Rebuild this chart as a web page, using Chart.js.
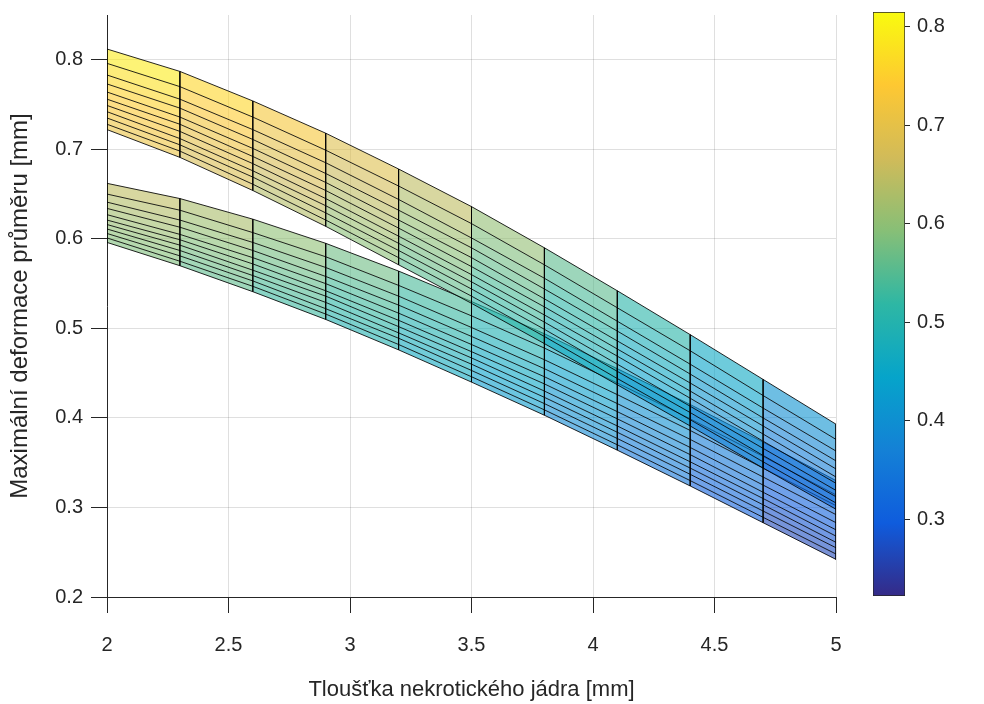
<!DOCTYPE html>
<html>
<head>
<meta charset="utf-8">
<script src="https://cdn.jsdelivr.net/npm/chart.js@4.4.1/dist/chart.umd.min.js"></script>
<style>
  html, body { margin: 0; padding: 0; background: #fff; }
  #wrap { position: relative; width: 984px; height: 704px; }
  #plot { position: absolute; left: 0; top: 0; }
  #cbar { position: absolute; left: 860px; top: 0; }
</style>
</head>
<body>
<div id="wrap">
  <canvas id="plot" width="984" height="704"></canvas>
  <canvas id="cbar" width="124" height="704"></canvas>
</div>
<script>
// tloušťka nekrotického jádra [mm]
const thickness = [2, 2.3, 2.6, 2.9, 3.2, 3.5, 3.8, 4.1, 4.4, 4.7, 5];

// horní plocha - jedna řada = jedna čára sítě
const upperRows = [
  [0.812, 0.787, 0.754, 0.718, 0.678, 0.636, 0.590, 0.542, 0.493, 0.443, 0.393],
  [0.796, 0.770, 0.736, 0.699, 0.659, 0.617, 0.571, 0.523, 0.475, 0.425, 0.376],
  [0.783, 0.756, 0.722, 0.685, 0.644, 0.601, 0.556, 0.508, 0.460, 0.411, 0.363],
  [0.773, 0.746, 0.711, 0.673, 0.632, 0.590, 0.544, 0.497, 0.449, 0.400, 0.352],
  [0.764, 0.736, 0.701, 0.663, 0.621, 0.579, 0.533, 0.486, 0.439, 0.391, 0.343],
  [0.756, 0.728, 0.692, 0.654, 0.612, 0.569, 0.524, 0.477, 0.430, 0.382, 0.334],
  [0.749, 0.720, 0.684, 0.645, 0.603, 0.560, 0.515, 0.469, 0.422, 0.374, 0.327],
  [0.742, 0.712, 0.676, 0.637, 0.595, 0.552, 0.507, 0.460, 0.413, 0.366, 0.319],
  [0.735, 0.705, 0.669, 0.629, 0.587, 0.544, 0.499, 0.452, 0.406, 0.358, 0.312],
  [0.728, 0.698, 0.661, 0.621, 0.579, 0.536, 0.491, 0.444, 0.398, 0.351, 0.305],
  [0.722, 0.691, 0.654, 0.614, 0.571, 0.528, 0.483, 0.437, 0.391, 0.344, 0.298]
];

// dolní plocha
const lowerRows = [
  [0.662, 0.645, 0.622, 0.595, 0.564, 0.530, 0.494, 0.455, 0.415, 0.373, 0.330],
  [0.650, 0.632, 0.607, 0.580, 0.548, 0.514, 0.478, 0.439, 0.399, 0.357, 0.314],
  [0.641, 0.621, 0.596, 0.568, 0.536, 0.501, 0.465, 0.426, 0.386, 0.344, 0.302],
  [0.634, 0.613, 0.587, 0.558, 0.526, 0.491, 0.455, 0.416, 0.376, 0.334, 0.292],
  [0.627, 0.605, 0.579, 0.550, 0.517, 0.482, 0.446, 0.407, 0.367, 0.325, 0.283],
  [0.621, 0.599, 0.572, 0.542, 0.509, 0.474, 0.438, 0.399, 0.359, 0.317, 0.275],
  [0.616, 0.593, 0.565, 0.536, 0.502, 0.467, 0.430, 0.391, 0.351, 0.310, 0.268],
  [0.611, 0.587, 0.559, 0.529, 0.495, 0.460, 0.423, 0.384, 0.344, 0.303, 0.261],
  [0.606, 0.581, 0.553, 0.522, 0.489, 0.453, 0.416, 0.377, 0.337, 0.296, 0.255],
  [0.601, 0.575, 0.547, 0.516, 0.482, 0.446, 0.409, 0.370, 0.330, 0.289, 0.248],
  [0.596, 0.570, 0.541, 0.510, 0.476, 0.440, 0.403, 0.364, 0.324, 0.283, 0.242]
];

// rozsah barevné škály (odečteno z colorbaru)
const colorLimits = [0.222, 0.815];

const xTitle = 'Tloušťka nekrotického jádra [mm]';
const yTitle = 'Maximální deformace průměru [mm]';

const FONT = '"Liberation Sans", Arial, Helvetica, sans-serif';
const TEXT = '#262626';
const GRID = 'rgba(38,38,38,0.15)';
const EDGE = 'rgba(0,0,0,0.85)';
const ALPHA = 0.6;

// parula
const PARULA = [
  [53, 42, 135], [15, 92, 221], [20, 129, 214], [6, 164, 202], [46, 183, 164],
  [135, 191, 119], [209, 187, 89], [254, 200, 50], [249, 251, 14]
];

const cMin = colorLimits[0];
const cMax = colorLimits[1];

function parula(t, a) {
  t = Math.max(0, Math.min(1, t));
  const p = t * (PARULA.length - 1);
  const i = Math.min(Math.floor(p), PARULA.length - 2);
  const f = p - i;
  const c = PARULA[i].map((v, j) => Math.round(v + (PARULA[i + 1][j] - v) * f));
  return `rgba(${c[0]},${c[1]},${c[2]},${a})`;
}

function faceColor(rows, k, i) {
  const v = (rows[k - 1][i] + rows[k][i] + rows[k - 1][i + 1] + rows[k][i + 1]) / 4;
  return parula((v - cMin) / (cMax - cMin), ALPHA);
}

function bandDatasets(rows, order) {
  const lines = rows.map((row, k) => ({
    data: row.map((v, i) => ({ x: thickness[i], y: v })),
    borderColor: EDGE,
    borderWidth: 1,
    pointRadius: 0,
    tension: 0,
    fill: k === 0 ? false : '-1',
    backgroundColor: 'transparent',
    ...(k === 0 ? {} : { segment: { backgroundColor: c => faceColor(rows, k, c.p0DataIndex) } }),
    order: order + 1
  }));
  const edges = thickness.map((x, i) => ({
    data: rows.map(r => ({ x: x, y: r[i] })),
    borderColor: EDGE,
    borderWidth: 1,
    pointRadius: 0,
    fill: false,
    order: order
  }));
  return lines.concat(edges);
}

// bez extra odsazení od popisků
function noPad(s) {
  s.paddingTop = 0;
  s.paddingBottom = 0;
  s.paddingLeft = 0;
  s.paddingRight = 0;
}

new Chart(document.getElementById('plot'), {
  type: 'line',
  data: { datasets: bandDatasets(upperRows, 0).concat(bandDatasets(lowerRows, 2)) },
  options: {
    responsive: false,
    animation: false,
    layout: { padding: { left: 0, top: 15, right: 148, bottom: 0 } },
    plugins: { legend: { display: false }, tooltip: { enabled: false } },
    scales: {
      x: {
        type: 'linear', min: 2, max: 5,
        afterFit: s => { s.height = 107; noPad(s); },
        grid: { color: GRID, tickColor: TEXT, tickLength: 16 },
        border: { color: TEXT },
        ticks: { stepSize: 0.5, color: TEXT, padding: 20, maxRotation: 0,
          font: { family: FONT, size: 20 }, callback: v => String(+v.toFixed(2)) },
        title: { display: true, text: xTitle, color: TEXT,
          font: { family: FONT, size: 22 }, padding: { top: 0, bottom: 1 } }
      },
      y: {
        type: 'linear', min: 0.2, max: 0.85,
        afterFit: s => { s.width = 107; noPad(s); },
        grid: { color: GRID, tickColor: TEXT, tickLength: 16 },
        border: { color: TEXT },
        ticks: { stepSize: 0.1, includeBounds: false, color: TEXT, padding: 8,
          font: { family: FONT, size: 20 }, callback: v => v.toFixed(1) },
        title: { display: true, text: yTitle, color: TEXT,
          font: { family: FONT, size: 24, lineHeight: 1 }, padding: { top: 8, bottom: 0 } }
      }
    }
  }
});

function colorbarFill(ctx) {
  const area = ctx.chart.chartArea;
  if (!area) return 'transparent';
  const g = ctx.chart.ctx.createLinearGradient(0, area.bottom, 0, area.top);
  PARULA.forEach((c, i) => g.addColorStop(i / (PARULA.length - 1), `rgb(${c[0]},${c[1]},${c[2]})`));
  return g;
}

new Chart(document.getElementById('cbar'), {
  type: 'bar',
  data: {
    labels: [''],
    datasets: [{
      data: [[cMin, cMax]],
      backgroundColor: colorbarFill,
      borderColor: TEXT,
      borderWidth: 1,
      borderSkipped: false,
      barPercentage: 1,
      categoryPercentage: 1
    }]
  },
  options: {
    responsive: false,
    animation: false,
    layout: { padding: { left: 13, top: 12, right: 0, bottom: 108 } },
    plugins: { legend: { display: false }, tooltip: { enabled: false } },
    scales: {
      x: { display: false },
      y: {
        position: 'right', min: cMin, max: cMax,
        afterFit: s => { s.width = 79; noPad(s); },
        grid: { drawOnChartArea: false, tickLength: 5, tickColor: TEXT },
        border: { display: false },
        ticks: { stepSize: 0.1, includeBounds: false, color: TEXT, padding: 7,
          font: { family: FONT, size: 20 }, callback: v => v.toFixed(1) }
      }
    }
  }
});
</script>
</body>
</html>
